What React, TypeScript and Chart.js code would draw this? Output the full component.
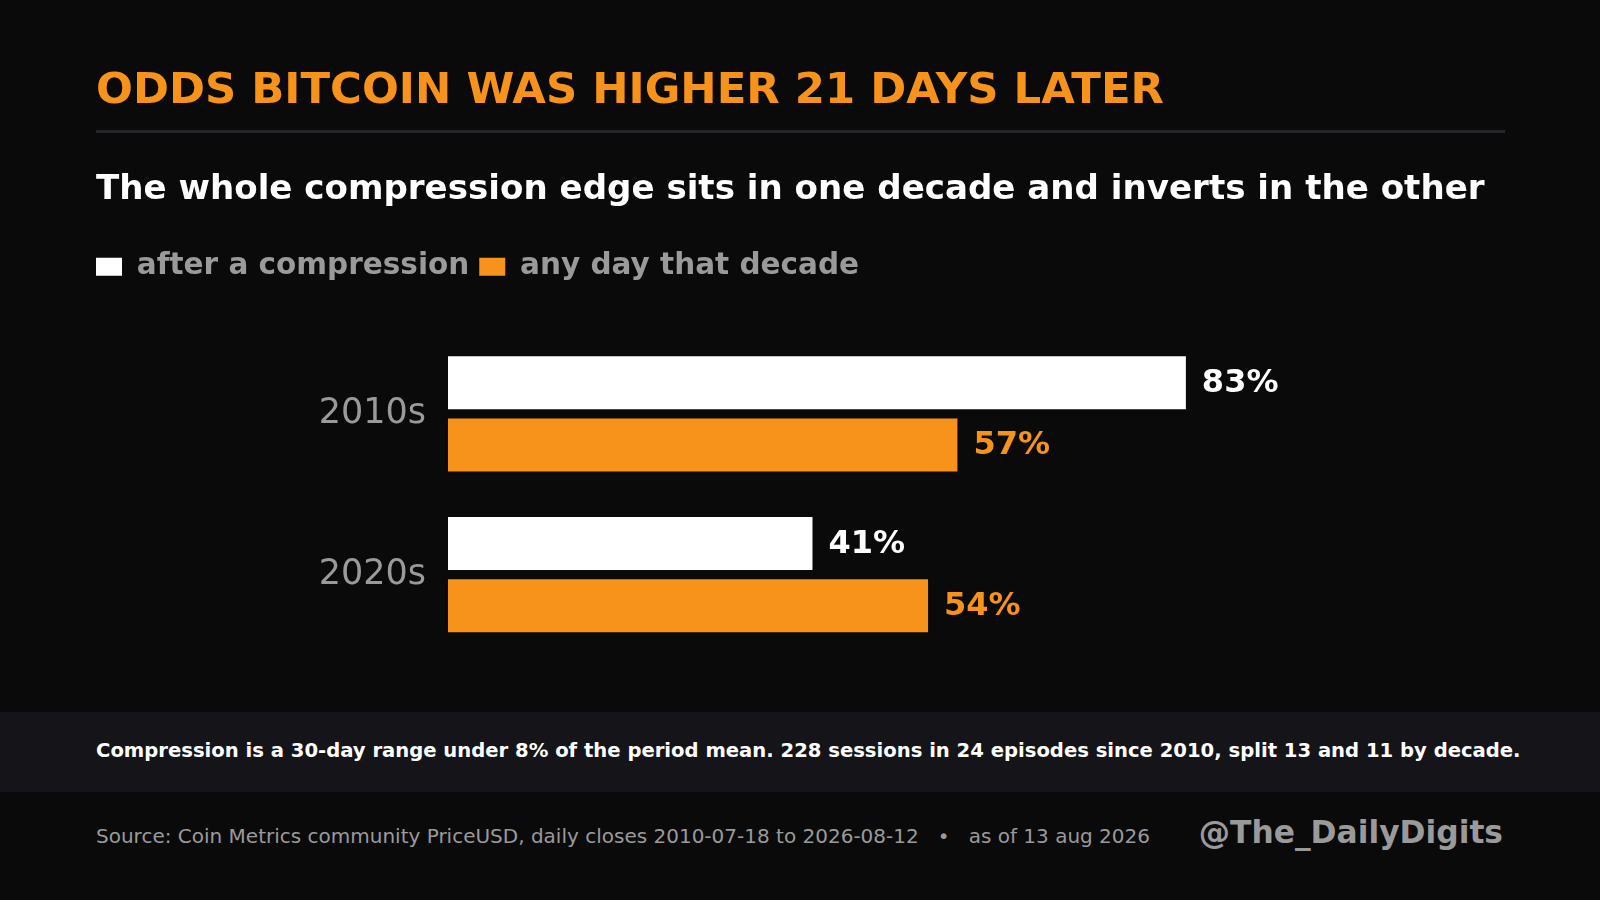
import React, { useEffect, useRef } from 'react';
import { Chart, registerables } from 'chart.js';

Chart.register(...registerables);

const DECADES = ['2010s', '2020s'];
const SERIES_NAMES = ['after a compression', 'any day that decade'];
const AFTER_COMPRESSION = [83, 41];
const ANY_DAY = [57.3, 54];

const ORANGE = '#f7931a';
const GREY = '#9a9a9a';
const BG = '#0a0a0a';
const FONT = '"DejaVu Sans", "Liberation Sans", sans-serif';

Chart.defaults.font.family = FONT;

// value labels at the end of each bar, coloured like the bar
const valueLabels = {
  id: 'valueLabels',
  afterDatasetsDraw(chart: any) {
    const { ctx } = chart;
    ctx.save();
    ctx.font = `bold 32px ${FONT}`;
    ctx.textBaseline = 'middle';
    ctx.textAlign = 'left';
    chart.data.datasets.forEach((ds: any, i: number) => {
      const meta = chart.getDatasetMeta(i);
      ctx.fillStyle = ds.backgroundColor;
      meta.data.forEach((bar: any, j: number) => {
        ctx.fillText(`${Math.round(ds.data[j])}%`, bar.x + 16, bar.y + 1);
      });
    });
    ctx.restore();
  },
};

// extra room between the legend and the bars
const legendGap = {
  id: 'legendGap',
  beforeInit(chart: any) {
    const legend = chart.legend;
    if (!legend) return;
    const fit = legend.fit;
    legend.fit = function () {
      fit.call(this);
      this.height += 42;
    };
  },
};

function BarChart() {
  const canvasRef = useRef<HTMLCanvasElement>(null);

  useEffect(() => {
    const canvas = canvasRef.current;
    if (!canvas) return;
    const chart = new Chart(canvas, {
      type: 'bar',
      data: {
        labels: DECADES,
        datasets: [
          {
            label: SERIES_NAMES[0],
            data: AFTER_COMPRESSION,
            backgroundColor: '#ffffff',
            borderWidth: 0,
            categoryPercentage: 0.773,
            barPercentage: 0.855,
          },
          {
            label: SERIES_NAMES[1],
            data: ANY_DAY,
            backgroundColor: ORANGE,
            borderWidth: 0,
            categoryPercentage: 0.773,
            barPercentage: 0.855,
          },
        ],
      },
      options: {
        indexAxis: 'y',
        animation: false,
        responsive: true,
        maintainAspectRatio: false,
        layout: { padding: { left: 86, top: 242, right: 263, bottom: 57 } },
        plugins: {
          legend: {
            position: 'top',
            align: 'start',
            labels: {
              boxWidth: 26,
              boxHeight: 18,
              padding: 10,
              color: GREY,
              font: { size: 29.5, weight: 'bold' },
            },
          },
          tooltip: { enabled: false },
        },
        scales: {
          x: { display: false, min: 0, max: 100 },
          y: {
            grid: { display: false, drawTicks: false },
            border: { display: false },
            ticks: { color: GREY, font: { size: 35 }, padding: 22 },
            afterFit: (s: any) => {
              s.width = 362;
            },
          },
        },
      },
      plugins: [valueLabels, legendGap],
    });
    return () => chart.destroy();
  }, []);

  return (
    <div style={{ position: 'absolute', left: 0, top: 0, width: 1600, height: 712 }}>
      <canvas ref={canvasRef} />
    </div>
  );
}

export default function App() {
  const text = (extra: React.CSSProperties): React.CSSProperties => ({
    position: 'absolute',
    lineHeight: 1,
    whiteSpace: 'pre',
    fontFamily: FONT,
    ...extra,
  });

  return (
    <div style={{ position: 'fixed', left: 0, top: 0, width: 1600, height: 900, background: BG, overflow: 'hidden' }}>
      <BarChart />
      <div style={text({ left: 96, top: 67, fontSize: 43.4, fontWeight: 'bold', color: ORANGE })}>
        ODDS BITCOIN WAS HIGHER 21 DAYS LATER
      </div>
      <div style={{ position: 'absolute', left: 96, top: 130, width: 1409, height: 3, background: '#25252a' }} />
      <div style={text({ left: 96, top: 170, fontSize: 34.1, fontWeight: 'bold', color: '#ffffff' })}>
        The whole compression edge sits in one decade and inverts in the other
      </div>
      <div style={{ position: 'absolute', left: 0, top: 712, width: 1600, height: 80, background: '#141419' }} />
      <div style={text({ left: 96, top: 741, fontSize: 19.6, fontWeight: 'bold', color: '#ffffff' })}>
        Compression is a 30-day range under 8% of the period mean. 228 sessions in 24 episodes since 2010, split 13 and 11 by decade.
      </div>
      <div style={text({ left: 96, top: 826.4, fontSize: 20, color: GREY })}>
        {'Source: Coin Metrics community PriceUSD, daily closes 2010-07-18 to 2026-08-12   \u2022   as of 13 aug 2026'}
      </div>
      <div style={text({ right: 97, top: 817, fontSize: 31.3, fontWeight: 'bold', color: GREY })}>
        @The_DailyDigits
      </div>
    </div>
  );
}
